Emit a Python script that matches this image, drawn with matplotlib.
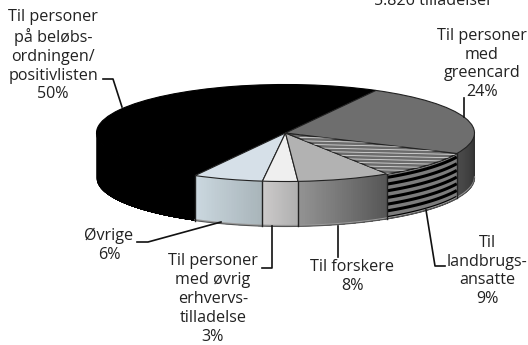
import numpy as np
import matplotlib
matplotlib.use("Agg")
import matplotlib.pyplot as plt
from matplotlib.patches import Wedge
from matplotlib.transforms import Affine2D

# shares in percent, going counter clockwise from the greencard edge
names = ["positivliste", "ovrige", "erhverv", "forskere", "landbrug", "greencard"]
shares = [50, 6, 3, 8, 9, 24]
top_colors = ["#000000", "#d6e0e8", "#efefef", "#b2b2b2", "#6c6c6c", "#6e6e6e"]
side_from = ["#000000", "#cbd8e0", "#cccaca", "#939393", "#000000", "#4c4c4c"]
side_to = ["#000000", "#a9b5ba", "#b0b0b0", "#565656", "#000000", "#303030"]

label_text = [
    "Til personer\npå beløbs-\nordningen/\npositivlisten\n50%",
    "Til personer\nmed\ngreencard\n24%",
    "Øvrige\n6%",
    "Til personer\nmed øvrig\nerhvervs-\ntilladelse\n3%",
    "Til forskere\n8%",
    "Til\nlandbrugs-\nansatte\n9%",
]
label_x = [53, 482, 109, 213, 352, 487]
label_y = [55.5, 64, 245.5, 299, 276.5, 271]
leaders = [
    ([103, 113, 122], [79, 79, 107]),
    ([464, 464], [98, 117]),
    ([137, 148, 221], [242, 242, 222]),
    ([262, 272, 272], [268, 268, 226]),
    ([338, 338], [226, 257]),
    ([445, 435, 426], [266, 266, 210]),
]

cx, cy, a, b = 285.5, 133, 189, 48.5
depth = 45
start = 61.4

plt.rcParams["font.family"] = ["Open Sans", "DejaVu Sans"]
fig = plt.figure(figsize=(5.28, 3.45), dpi=100)
ax = fig.add_axes([0, 0, 1, 1])
ax.set_xlim(0, 528)
ax.set_ylim(345, 0)
ax.axis("off")

edges = start + np.cumsum([0] + shares) * 3.6
top_tf = Affine2D().scale(a, -b).translate(cx, cy) + ax.transData


def rim(t, off=0):
    r = np.radians(t)
    return cx + a * np.cos(r), cy - b * np.sin(r) + off


# side wall, only the part that faces us (180 to 360 deg)
for i in range(len(shares)):
    t0, t1 = edges[i], edges[i + 1]
    if t1 > 360 and t0 < 360:
        t1 = 360
    if t0 >= 360:
        t0, t1 = 360, 360
    t0 = max(t0, 180)
    if t1 <= t0:
        continue
    c0 = np.array(matplotlib.colors.to_rgb(side_from[i]))
    c1 = np.array(matplotlib.colors.to_rgb(side_to[i]))
    steps = 40
    ts = np.linspace(t0, t1, steps + 1)
    for k in range(steps):
        # each strip runs on to the end so no seams show between them
        tt = np.linspace(ts[k], t1, 12)
        xx, yy = rim(tt)
        col = c0 + (c1 - c0) * k / (steps - 1)
        ax.fill(np.r_[xx, xx[::-1]], np.r_[yy, yy[::-1] + depth],
                color=col, lw=0, zorder=2)
    if names[i] == "landbrug":
        tt = np.linspace(t0, t1, 60)
        xx, yy = rim(tt)
        ax.fill_between(xx, yy, yy + depth, color="#7c7c7c", lw=0, zorder=2.1)
        for off in np.arange(3.5, depth - 1, 6.7):
            ax.plot(xx, yy + off, color="black", lw=2.2, zorder=2.2, solid_capstyle="butt")
    # lighter bevel at the foot of the wall
    tt = np.linspace(t0, t1, 40)
    xx, yy = rim(tt, depth)
    if names[i] != "positivliste":
        ax.plot(xx, yy - 1, color="#9a9a9a", lw=0.9, zorder=2.3)
        ax.plot(xx, yy, color="#555555", lw=0.8, zorder=2.4)
    # vertical seam
    x0, y0 = rim(t0)
    if t0 > 241:
        ax.plot([x0, x0], [y0, y0 + depth], color="#222222", lw=1, zorder=2.5)

# top face
for i in range(len(shares)):
    edge = "#000000" if names[i] == "positivliste" else "#222222"
    w = Wedge((0, 0), 1, edges[i], edges[i + 1], transform=top_tf,
              facecolor=top_colors[i], edgecolor=edge, lw=0.8, zorder=3)
    ax.add_patch(w)
    if names[i] == "landbrug":
        for y in np.arange(136, 176, 3.4):
            ln, = ax.plot([300, 480], [y - 2, y + 2], color="#d8d8d8", lw=0.6, zorder=3.1)
            ln.set_clip_path(w)

for i in range(len(label_text)):
    ax.text(label_x[i], label_y[i], label_text[i], ha="center", va="center",
            fontsize=11.6, color="#222222", linespacing=1.24, zorder=5)
    ax.plot(leaders[i][0], leaders[i][1], color="#111111", lw=1.2, zorder=4)

ax.text(433, 1, "5.826 tilladelser", ha="center", va="center",
        fontsize=11.6, color="#222222", zorder=5)

fig.savefig("out.png", dpi=100)
